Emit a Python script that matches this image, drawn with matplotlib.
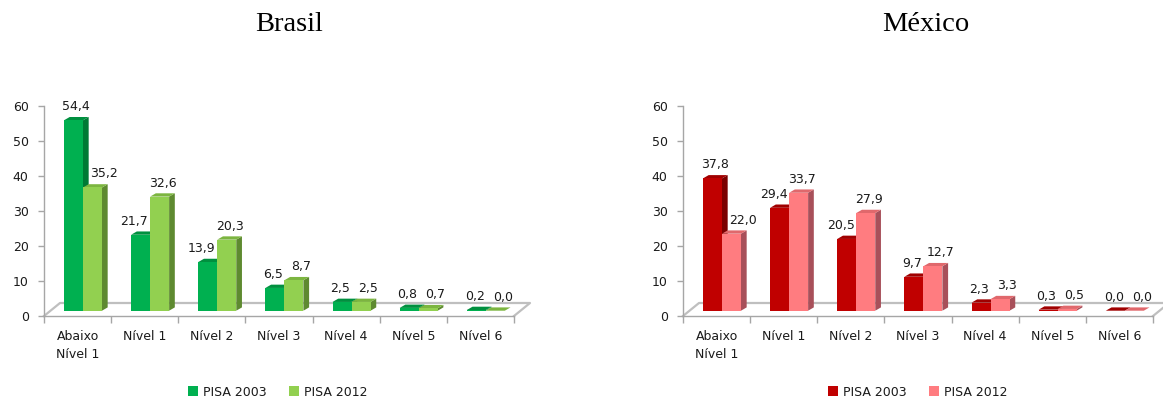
import matplotlib
matplotlib.use("Agg")
import matplotlib.pyplot as plt
from matplotlib.patches import Polygon, Rectangle
from matplotlib.lines import Line2D

plt.rcParams['font.family'] = ['DejaVu Sans']

categories = ["Abaixo\nNível 1", "Nível 1", "Nível 2", "Nível 3", "Nível 4", "Nível 5", "Nível 6"]
series_names = ["PISA 2003", "PISA 2012"]
brasil_2003 = [54.4, 21.7, 13.9, 6.5, 2.5, 0.8, 0.2]
brasil_2012 = [35.2, 32.6, 20.3, 8.7, 2.5, 0.7, 0.0]
mexico_2003 = [37.8, 29.4, 20.5, 9.7, 2.3, 0.3, 0.0]
mexico_2012 = [22.0, 33.7, 27.9, 12.7, 3.3, 0.5, 0.0]
y_ticks = [0, 10, 20, 30, 40, 50, 60]

# colors: (front, top, side)
green = [("#00B050", "#00903F", "#007A35"), ("#92D050", "#7CB540", "#5E8A30")]
red = [("#C00000", "#A00000", "#7A0000"), ("#FF7C80", "#E0686C", "#A8505A")]

W, H = 1163, 403
DPI = 100
fig = plt.figure(figsize=(W / DPI, H / DPI), dpi=DPI)
FS = 9
TXT = "#1a1a1a"


def fmt(v):
    return f"{v:.1f}".replace(".", ",")


def draw_chart(left_px, title, title_x, s03, s12, colors, legend_x):
    ax_w_px, ax_h_px = 470, 210
    bottom_px = 316
    ax = fig.add_axes([left_px / W, 1 - bottom_px / H, ax_w_px / W, ax_h_px / H])
    n = len(categories)
    ax.set_xlim(-0.5, n - 0.5)
    ax.set_ylim(0, 60)
    ppx = ax_w_px / n      # px per category unit
    ppy = ax_h_px / 60.0   # px per value unit

    # floor (3D base)
    fdx, fdy = 16 / ppx, 13 / ppy
    floor = [(-0.5, 0), (-0.5 + fdx, fdy), (n - 0.5 + fdx, fdy), (n - 0.5, 0)]
    ax.add_line(Line2D([p[0] for p in floor], [p[1] for p in floor],
                       color="#BFBFBF", lw=1.6, clip_on=False, zorder=1))

    bw = 19 / ppx
    shift = 5.4 / ppx
    y0 = 5.3 / ppy
    ddx, ddy = 5.7 / ppx, 3.3 / ppy
    series = [s03, s12]
    for k, vals in enumerate(series):
        front, top, side = colors[k]
        for i, v in enumerate(vals):
            x0 = i + shift - bw + k * bw
            x1 = x0 + bw
            yb, yt = y0, y0 + v
            ax.add_patch(Polygon([(x1, yb), (x1 + ddx, yb + ddy), (x1 + ddx, yt + ddy), (x1, yt)],
                                 closed=True, facecolor=side, edgecolor="none", zorder=3 + k, clip_on=False))
            ax.add_patch(Polygon([(x0, yt), (x0 + ddx, yt + ddy), (x1 + ddx, yt + ddy), (x1, yt)],
                                 closed=True, facecolor=top, edgecolor="none", zorder=3 + k, clip_on=False))
            ax.add_patch(Rectangle((x0, yb), bw, v, facecolor=front, edgecolor="none",
                                   zorder=3 + k, clip_on=False))

    # value labels with simple overlap avoidance
    sep_px = 28.0
    for i in range(n):
        v03, v12 = s03[i], s12[i]
        c03 = i + shift - bw / 2 + ddx / 2
        c12 = c03 + bw
        d_px = (v12 - v03) * ppy
        if abs(d_px) < 12:
            mid = (c03 + c12) / 2
            c03, c12 = mid - sep_px / 2 / ppx, mid + sep_px / 2 / ppx
        elif d_px > 0:
            c03 -= (sep_px - 19) / ppx
        else:
            c12 += (sep_px - 19) / ppx
        for c, v in ((c03, v03), (c12, v12)):
            ax.annotate(fmt(v), xy=(c, y0 + v), xytext=(0, 7.2),
                        textcoords="offset points", ha="center", va="baseline",
                        fontsize=FS, color=TXT, zorder=10, annotation_clip=False)

    for s in ["top", "right"]:
        ax.spines[s].set_visible(False)
    for s in ["left", "bottom"]:
        ax.spines[s].set_color("#A6A6A6")
        ax.spines[s].set_linewidth(1.0)
    ax.set_yticks(y_ticks)
    ax.set_yticklabels([str(t) for t in y_ticks])
    ax.tick_params(axis="y", length=4, width=1, color="#A6A6A6", pad=7, labelsize=FS, labelcolor=TXT)
    ax.set_xticks([i - 0.5 for i in range(n + 1)], minor=False)
    ax.set_xticklabels([""] * (n + 1))
    ax.tick_params(axis="x", which="major", length=5, width=1, color="#A6A6A6", direction="out")
    ax.set_xticks(range(n), minor=True)
    ax.set_xticklabels(categories, minor=True, fontsize=FS, color=TXT, linespacing=1.55)
    ax.tick_params(axis="x", which="minor", length=0, pad=10)
    ax.patch.set_alpha(0)

    fig.text(title_x / W, 1 - 30.7 / H, title, ha="center", va="baseline",
             fontsize=20.5, family="Liberation Serif", color="black")

    handles = [Rectangle((0, 0), 1, 1, facecolor=colors[k][0], edgecolor="none") for k in range(2)]
    fig.legend(handles, series_names, loc="center", bbox_to_anchor=(legend_x / W, 1 - 392 / H),
               ncol=2, frameon=False, fontsize=FS, handlelength=0.8, handleheight=0.8,
               handletextpad=0.4, columnspacing=1.8, labelcolor=TXT)
    return ax


draw_chart(44, "Brasil", 289, brasil_2003, brasil_2012, green, 278)
draw_chart(683, "México", 926, mexico_2003, mexico_2012, red, 918)

fig.savefig("out.png", dpi=DPI)
